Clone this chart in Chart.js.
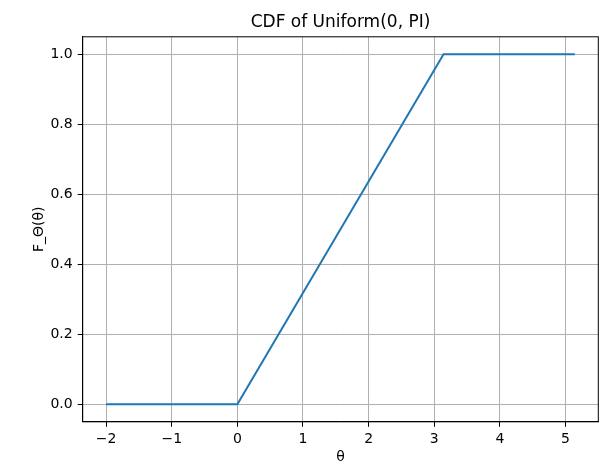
<!DOCTYPE html>
<html lang="en">

<head>
    <meta charset="UTF-8">
    <title>CDF of Uniform(0, PI)</title>
    <script src="https://cdn.jsdelivr.net/npm/chart.js"></script>
    <style>
        html, body { margin: 0; padding: 0; background: #fff; }
        #wrap { width: 600px; height: 464px; }
    </style>
</head>

<body>
    <div id="wrap"><canvas id="grafico"></canvas></div>

<script>
    // valores
    const theta = [-2, 0, 3.1416, 5.1416];
    const cdf = [0, 0, 1, 1];
    const xTicks = [-2, -1, 0, 1, 2, 3, 4, 5];
    const yTicks = [0, 0.2, 0.4, 0.6, 0.8, 1.0];

    const pontos = theta.map((t, i) => ({ x: t, y: cdf[i] }));

    const fonte = "'DejaVu Sans', sans-serif";

    // moldura completa (spines de cima e direita)
    const moldura = {
        id: 'moldura',
        afterDraw(chart) {
            const a = chart.chartArea;
            const ctx = chart.ctx;
            ctx.save();
            ctx.strokeStyle = '#000';
            ctx.lineWidth = 1;
            ctx.strokeRect(a.left, a.top, a.right - a.left, a.bottom - a.top);
            ctx.restore();
        }
    };

    function menos(v) {
        return String(v).replace('-', '\u2212');
    }

    new Chart(document.getElementById('grafico'), {
        type: 'scatter',
        data: {
            datasets: [{
                data: pontos,
                showLine: true,
                borderColor: '#1f77b4',
                borderWidth: 2,
                pointRadius: 0,
                fill: false
            }]
        },
        options: {
            responsive: true,
            maintainAspectRatio: false,
            animation: false,
            layout: { padding: { left: 0, right: 1.7, top: 0, bottom: 0 } },
            plugins: {
                legend: { display: false },
                tooltip: { enabled: false },
                title: {
                    display: true,
                    fullSize: false,
                    text: 'CDF of Uniform(0, PI)',
                    color: '#000',
                    font: { family: fonte, size: 17, weight: 'normal', lineHeight: 1.2 },
                    padding: { top: 12, bottom: 4.4 }
                }
            },
            scales: {
                x: {
                    type: 'linear',
                    min: -2.357,
                    max: 5.5,
                    afterBuildTicks: s => { s.ticks = xTicks.map(v => ({ value: v })); },
                    afterFit: s => { s.height = 42.2; },
                    ticks: {
                        color: '#000',
                        padding: 4,
                        maxRotation: 0,
                        font: { family: fonte, size: 14 },
                        callback: v => menos(v)
                    },
                    grid: { color: '#b0b0b0', lineWidth: 1, tickLength: 5, tickColor: '#000' },
                    border: { display: true, color: '#000', width: 1 },
                    title: {
                        display: true,
                        text: 'θ',
                        color: '#000',
                        font: { family: fonte, size: 14, lineHeight: 1 },
                        padding: { top: 0, bottom: 0 }
                    }
                },
                y: {
                    type: 'linear',
                    min: -0.05,
                    max: 1.05,
                    afterBuildTicks: s => { s.ticks = yTicks.map(v => ({ value: v })); },
                    afterFit: s => { s.width = 82.7; },
                    ticks: {
                        color: '#000',
                        padding: 5,
                        font: { family: fonte, size: 14 },
                        callback: v => menos(v.toFixed(1))
                    },
                    grid: { color: '#b0b0b0', lineWidth: 1, tickLength: 5, tickColor: '#000' },
                    border: { display: true, color: '#000', width: 1 },
                    title: {
                        display: true,
                        text: 'F_Θ(θ)',
                        color: '#000',
                        font: { family: fonte, size: 14, lineHeight: 1.2 },
                        padding: { top: 31, bottom: 0 }
                    }
                }
            }
        },
        plugins: [moldura]
    });
</script>
</body>

</html>
